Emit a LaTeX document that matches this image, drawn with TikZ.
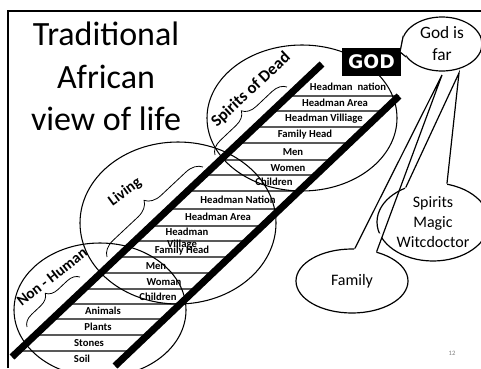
\documentclass[tikz,border=0pt]{standalone}
\usepackage{fontspec}
\setmainfont{Carlito}
\newfontfamily\godfont{DejaVu Sans}
\usetikzlibrary{shapes.geometric,decorations.pathreplacing,calc}

\begin{document}
\begin{tikzpicture}[x=0.75pt, y=-0.75pt,
  rail/.style={line width=5.25pt},
  rung/.style={line width=0.9pt},
  zone/.style={draw, ellipse, line width=0.8pt, inner sep=0pt},
  rungtext/.style={font=\bfseries\fontsize{8}{9}\selectfont, inner sep=0pt},
  grp/.style={font=\bfseries\fontsize{11.5}{12}\selectfont, inner sep=0pt},
  bubble/.style={draw, ellipse, fill=white, line width=0.9pt, inner sep=0pt},
  bubtext/.style={align=center, font=\fontsize{12}{15}\selectfont},
  bracket/.style={decorate, decoration={brace, amplitude=#1}, line width=0.6pt}
]
\clip (0,0) rectangle (481,368);

% frame
\draw[line width=1.5pt] (8,368) -- (8,11) -- (481,11);

% title
\node[anchor=base, font=\fontsize{25.5}{30}\selectfont] (title1) at (106,45) {Traditional};
\node[anchor=base, font=\fontsize{25.5}{30}\selectfont] (title2) at (106,88) {African};
\node[anchor=base, font=\fontsize{25.5}{30}\selectfont] (title3) at (106,130) {view of life};

% the three worlds
\node[zone, minimum width=142.5pt, minimum height=109.5pt] (dead) at (302,118) {};
\node[zone, minimum width=147pt, minimum height=121.5pt] (living) at (178,223) {};
\node[zone, minimum width=129pt, minimum height=100.5pt] (nonhuman) at (100,310) {};

\draw[bracket=10.5pt] (215,155) -- (287,87);
\draw[bracket=12pt] (107,257) -- (203,167);
\draw[bracket=9pt] (27,327) -- (80,277);

\node[grp, font=\bfseries\fontsize{12.5}{13}\selectfont, rotate=43] (deadlab) at (251,90) {Spirits of Dead};
\node[grp, rotate=36] (livlab) at (125,192) {Living};
\node[grp, rotate=38] (nonlab) at (52,277) {Non - Human};

% ladder
\coordinate (la) at (12,357);
\coordinate (lb) at (322,64);
\coordinate (ra) at (115,366);
\coordinate (rb) at (399,96);

\foreach \y in {96,111,127,143,160,175,191,209,226,241,257,273,289,304,319,335,351} {
  \coordinate (h1) at (0,\y);
  \coordinate (h2) at (10,\y);
  \draw[rung] (intersection of la--lb and h1--h2) -- (intersection of ra--rb and h1--h2);
}

\foreach \x/\y/\t [count=\i] in {
  348/87/Headman\ \ nation, 335/103/Headman Area, 324/119/Headman Villiage,
  305/135/Family Head, 293/152/Men, 288/168/Women, 274/182/Children,
  238/200/Headman Nation, 218/217/Headman Area, 187/232/Headman,
  182/245/Village, 182/251/Family Head, 156/266/Men, 164/282/Woman,
  158/297/Children, 103/311/Animals, 98/327/Plants, 89/343/Stones, 82/359/Soil} {
  \node[rungtext] (lab\i) at (\x,\y) {\t};
}

\draw[rail] (la) -- (lb);
\draw[rail] (ra) -- (rb);

% God and the callouts
\node[fill=black, text=white, font=\godfont\bfseries\fontsize{14}{14}\selectfont,
  minimum width=44pt, minimum height=21pt, inner sep=0pt] (god) at (371.5,62) {GOD};

\node[bubble, minimum width=60pt, minimum height=40.5pt,
  label={[bubtext, font=\fontsize{13}{16.5}\selectfont]center:God is\\far}] (far) at (442,44) {};
\coordinate (fartip) at (400,52);
\fill[white] ($(far.168)!-.05!(fartip)$) -- (fartip) -- ($(far.200)!-.05!(fartip)$) -- cycle;
\draw[line width=0.9pt] (far.168) -- (fartip) -- (far.200);

\node[bubble, minimum width=84pt, minimum height=58.5pt,
  label={[bubtext]center:Spirits\\Magic\\Witcdoctor}] (magic) at (433,222) {};
\coordinate (magictip) at (459,73);
\fill[white] ($(magic.128)!-.03!(magictip)$) -- ($(magic.128)!.12!(magictip)$)
  -- ($(magic.70)!.12!(magictip)$) -- ($(magic.70)!-.03!(magictip)$) -- cycle;
\draw[line width=0.9pt] (magic.128) -- (magictip) -- (magic.70);

\node[bubble, minimum width=84pt, minimum height=48pt,
  label={[bubtext]center:Family}] (family) at (352,281) {};
\coordinate (familytip) at (442,75);
\fill[white] ($(family.85)!-.03!(familytip)$) -- ($(family.85)!.1!(familytip)$)
  -- ($(family.50)!.1!(familytip)$) -- ($(family.50)!-.03!(familytip)$) -- cycle;
\draw[line width=0.9pt] (family.85) -- (familytip) -- (family.50);

\node[font=\fontsize{5}{5}\selectfont, text=gray] (page) at (452,353) {12};
\end{tikzpicture}
\end{document}
